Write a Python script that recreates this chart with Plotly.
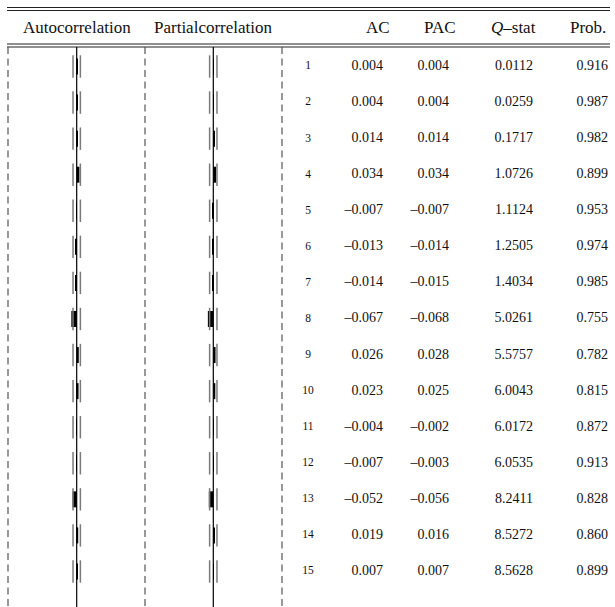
import plotly.graph_objects as go

# Correlogram values
lags = list(range(1, 16))
ac = [0.004, 0.004, 0.014, 0.034, -0.007, -0.013, -0.014, -0.067, 0.026, 0.023,
      -0.004, -0.007, -0.052, 0.019, 0.007]
pac = [0.004, 0.004, 0.014, 0.034, -0.007, -0.014, -0.015, -0.068, 0.028, 0.025,
       -0.002, -0.003, -0.056, 0.016, 0.007]
q_stat = [0.0112, 0.0259, 0.1717, 1.0726, 1.1124, 1.2505, 1.4034, 5.0261, 5.5757,
          6.0043, 6.0172, 6.0535, 8.2411, 8.5272, 8.5628]
prob = [0.916, 0.987, 0.982, 0.899, 0.953, 0.974, 0.985, 0.755, 0.782, 0.815,
        0.872, 0.913, 0.828, 0.860, 0.899]
conf_bound = 0.046  # approximate 2 standard-error band
headers = ["Autocorrelation", "Partialcorrelation", "AC", "PAC", "<i>Q</i>\u2013stat", "Prob."]

W, H = 615, 607
FONT = "Liberation Serif"
row0, row_step = 66.5, 36.07  # pixel centre of first row, row spacing


def fmt(v, d):
    s = f"{v:.{d}f}"
    return s.replace("-", "\u2013")


def py(p):  # pixel y -> paper y
    return 1 - p / H


def px(p):
    return p / W


# y axis in lag units, shared by every panel
y_top = 1 - row0 / row_step
y_bot = 1 + (H - row0) / row_step

scale = 80.0  # pixels per unit of correlation
col = [(8, 145, 76.7), (145, 282, 213.3)]

fig = go.Figure()

for i, vals in enumerate([ac, pac]):
    xa = "x" if i == 0 else "x2"
    fig.add_trace(go.Bar(
        x=vals, y=lags, orientation="h", width=16 / row_step,
        marker=dict(color="black", line=dict(width=0)),
        xaxis=xa, yaxis="y", showlegend=False, hoverinfo="x+y"))
    for sgn in (-1, 1):
        fig.add_trace(go.Scatter(
            x=[sgn * conf_bound] * len(lags), y=lags, mode="markers",
            marker=dict(symbol="line-ns", size=16,
                        line=dict(width=1.5, color="#7a7a7a")),
            xaxis=xa, yaxis="y", showlegend=False, hoverinfo="skip"))

# text columns (x in pixels on a 0..W axis)
tfont = dict(family=FONT, size=14, color="#111")
fig.add_trace(go.Scatter(
    x=[308] * len(lags), y=lags, mode="text", text=[str(l) for l in lags],
    textposition="middle center", textfont=dict(family=FONT, size=11.5, color="#111"),
    xaxis="x3", yaxis="y", showlegend=False, hoverinfo="skip"))
for xr, vals, d in [(383, ac, 3), (449, pac, 3), (533, q_stat, 4), (608, prob, 3)]:
    fig.add_trace(go.Scatter(
        x=[xr] * len(lags), y=lags, mode="text", text=[fmt(v, d) for v in vals],
        textposition="middle left", textfont=tfont,
        xaxis="x3", yaxis="y", showlegend=False, hoverinfo="skip"))

shapes = []
# horizontal rules: double rule at top and below the header
for yy in (7.5, 10.5, 44, 47):
    shapes.append(dict(type="line", xref="paper", yref="paper",
                       x0=px(7), x1=px(610), y0=py(yy), y1=py(yy),
                       line=dict(color="#222", width=1.2)))
# dashed column borders
for xx in (8, 145, 282):
    shapes.append(dict(type="line", xref="paper", yref="paper",
                       x0=px(xx), x1=px(xx), y0=py(47), y1=0,
                       line=dict(color="#555", width=1.2, dash="7px,4.5px")))
# zero lines of the two correlation panels
for xa in ("x", "x2"):
    shapes.append(dict(type="line", xref=xa, yref="paper",
                       x0=0, x1=0, y0=py(47), y1=0,
                       line=dict(color="black", width=1.2)))

annotations = []
hx = [76.5, 213.5, 378, 440, 513, 588]
for h, xx in zip(headers, hx):
    annotations.append(dict(text=h, x=px(xx), y=py(27), xref="paper", yref="paper",
                            showarrow=False, xanchor="center", yanchor="middle",
                            font=dict(family=FONT, size=17, color="#111")))

axis_common = dict(showgrid=False, zeroline=False, showticklabels=False,
                   ticks="", showline=False, fixedrange=True)
layout = dict(
    width=W, height=H, margin=dict(l=0, r=0, t=0, b=0),
    paper_bgcolor="white", plot_bgcolor="rgba(0,0,0,0)",
    barmode="overlay", shapes=shapes, annotations=annotations,
    yaxis=dict(range=[y_bot, y_top], domain=[0, 1], **axis_common),
)
for i, (a, b, c) in enumerate(col):
    key = "xaxis" if i == 0 else "xaxis2"
    layout[key] = dict(domain=[px(a), px(b)],
                       range=[(a - c) / scale, (b - c) / scale],
                       anchor="y", **axis_common)
layout["xaxis3"] = dict(domain=[0, 1], range=[0, W], anchor="y", **axis_common)

fig.update_layout(**layout)
fig.write_html("out.html")
